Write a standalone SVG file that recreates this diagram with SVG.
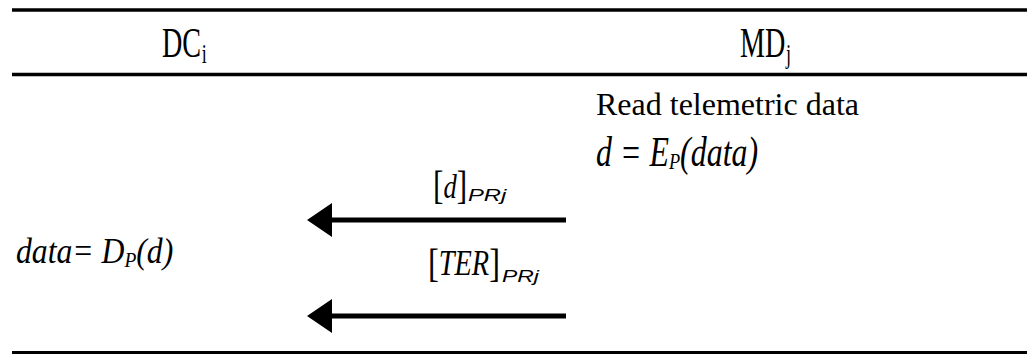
<svg xmlns="http://www.w3.org/2000/svg" width="1027" height="354" viewBox="0 0 1027 354">
  <style>
    .rule { stroke: #000; fill: none; }
    .serif { font-family: "Liberation Serif", "Times New Roman", serif; fill: #000; }
    .it { font-style: italic; }
    .up { font-style: normal; }
    .sub { font-family: "Liberation Sans", Arial, sans-serif; font-style: italic; fill: #000; }
    .msg { stroke: #000; stroke-width: 5; fill: none; marker-end: url(#head); }
  </style>
  <defs>
    <marker id="head" viewBox="0 0 25 34" refX="0" refY="17" markerWidth="25" markerHeight="34" markerUnits="userSpaceOnUse" orient="auto">
      <path d="M0,0 L25,17 L0,34 Z" fill="#000"/>
    </marker>
  </defs>

  <g id="table-rules">
    <line class="rule" x1="12" y1="10" x2="1027" y2="10" stroke-width="3.5"/>
    <line class="rule" x1="12" y1="74.5" x2="1027" y2="74.5" stroke-width="3.5"/>
    <line class="rule" x1="12" y1="352.5" x2="1027" y2="352.5" stroke-width="3"/>
  </g>

  <g id="node-dc">
    <text class="serif" transform="translate(162,57) scale(0.67,1)" font-size="42">DC<tspan font-size="27" dx="1" dy="6">i</tspan></text>
  </g>

  <g id="node-md">
    <text class="serif" transform="translate(740,57) scale(0.67,1)" font-size="42">MD<tspan font-size="27" dx="1" dy="6">j</tspan></text>
  </g>

  <g id="md-steps">
    <text class="serif" x="596" y="115" font-size="32">Read telemetric data</text>
    <text class="serif it" transform="translate(596,166) scale(0.76,1)" font-size="42">d = E<tspan font-size="24" dy="3">P</tspan><tspan dy="-3">(data)</tspan></text>
  </g>

  <g id="dc-steps">
    <text class="serif it" transform="translate(16,263) scale(0.88,1)" font-size="36">data= D<tspan font-size="22" dy="4">P</tspan><tspan dy="-4">(d)</tspan></text>
  </g>

  <g id="connectors">
    <line class="msg" x1="566" y1="220" x2="332" y2="220"/>
    <line class="msg" x1="566" y1="316" x2="332" y2="316"/>
  </g>

  <g id="label-d">
    <text class="serif" transform="translate(433,199) scale(0.78,1)" font-size="40">[<tspan class="it" font-size="34" dy="-1">d</tspan><tspan dy="1">]</tspan></text>
    <text class="sub" transform="translate(468,201) scale(1.4,1)" font-size="17">PRj</text>
  </g>

  <g id="label-ter">
    <text class="serif" transform="translate(428,277) scale(0.81,1)" font-size="40">[<tspan class="it" font-size="35" dy="-2">TER</tspan><tspan dy="2">]</tspan></text>
    <text class="sub" transform="translate(502,282) scale(1.35,1)" font-size="17">PRj</text>
  </g>
</svg>
